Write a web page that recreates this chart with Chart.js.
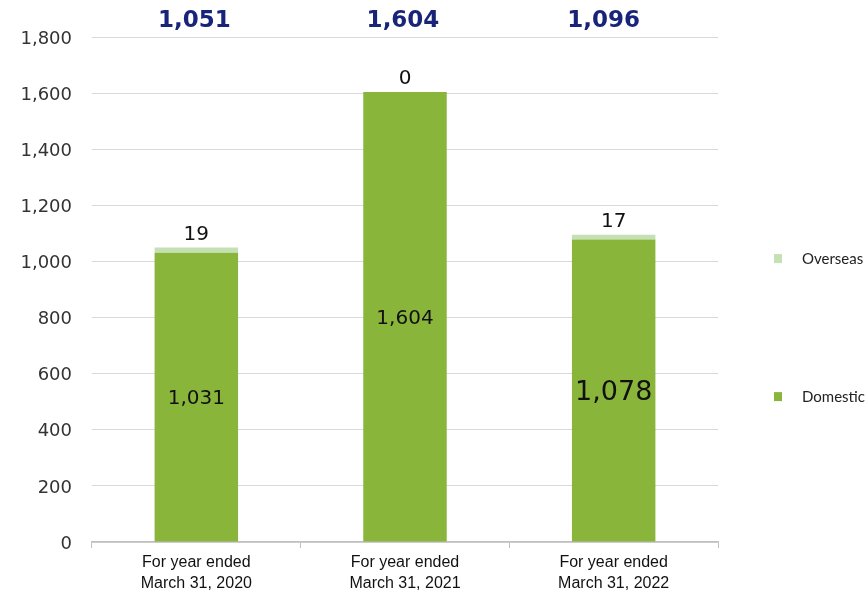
<!DOCTYPE html>
<html>
<head>
<meta charset="utf-8">
<script src="https://cdn.jsdelivr.net/npm/chart.js@4"></script>
<style>
  html, body { margin: 0; padding: 0; background: #fff; }
  #wrap { width: 865px; height: 599px; position: relative; }
</style>
</head>
<body>
<div id="wrap"><canvas id="chart"></canvas></div>

<script>
    const years = [
        ["For year ended", "March 31, 2020"],
        ["For year ended", "March 31, 2021"],
        ["For year ended", "March 31, 2022"]
    ];
    const domestic = [1031, 1604, 1078];
    const overseas = [19, 0, 17];
    const totals = [1051, 1604, 1096];
    const yTicks = [0, 200, 400, 600, 800, 1000, 1200, 1400, 1600, 1800];

    const GREEN = '#8AB53B';
    const PALE = '#C5E0B3';
    const NAVY = '#18247A';

    const fmt = function (v) { return v.toLocaleString('en-US'); };

    // value labels: domestic in the middle of its bar, overseas just above the stack
    const valueLabels = {
        id: 'valueLabels',
        afterDatasetsDraw(chart) {
            const ctx = chart.ctx;
            ctx.save();
            ctx.textAlign = 'center';
            ctx.textBaseline = 'middle';
            ctx.fillStyle = '#111';
            chart.getDatasetMeta(0).data.forEach(function (bar, i) {
                // the last year's figure is printed larger
                ctx.font = (i == 2 ? 27 : 20) + 'px "DejaVu Sans"';
                ctx.fillText(fmt(domestic[i]), bar.x, (bar.y + bar.base) / 2 + 2);
            });
            ctx.font = '20px "DejaVu Sans"';
            chart.getDatasetMeta(1).data.forEach(function (bar, i) {
                ctx.fillText(fmt(overseas[i]), bar.x, bar.y - 13);
            });
            // totals sit above the plot area
            ctx.font = 'bold 23px "DejaVu Sans"';
            ctx.fillStyle = NAVY;
            chart.getDatasetMeta(0).data.forEach(function (bar, i) {
                ctx.fillText(fmt(totals[i]), bar.x - (i == 2 ? 10 : 2), chart.chartArea.top - 16);
            });
            ctx.restore();
        }
    };

    // small square legend down the right side
    const sideLegend = {
        id: 'sideLegend',
        afterDraw(chart) {
            const ctx = chart.ctx;
            const y = chart.scales.y;
            const items = [
                { text: 'Overseas', color: PALE, at: 1012 },
                { text: 'Domestic', color: GREEN, at: 520 }
            ];
            ctx.save();
            ctx.font = '15px Lato';
            ctx.textBaseline = 'middle';
            ctx.textAlign = 'left';
            items.forEach(function (it) {
                let cy = y.getPixelForValue(it.at);
                ctx.fillStyle = it.color;
                ctx.fillRect(774, cy - 4, 8, 9);
                ctx.fillStyle = '#222';
                ctx.fillText(it.text, 802, cy + 1);
            });
            ctx.restore();
        }
    };

    new Chart(document.getElementById('chart'), {
        type: 'bar',
        data: {
            labels: years,
            datasets: [
                {
                    label: 'Domestic',
                    data: domestic,
                    backgroundColor: GREEN,
                    stack: 's0'
                },
                {
                    label: 'Overseas',
                    data: overseas,
                    backgroundColor: PALE,
                    stack: 's0'
                }
            ]
        },
        options: {
            responsive: true,
            maintainAspectRatio: false,
            animation: false,
            layout: { padding: { top: 37, right: 147, left: 0, bottom: 0 } },
            datasets: {
                bar: { categoryPercentage: 1, barPercentage: 0.4 }
            },
            scales: {
                x: {
                    stacked: true,
                    afterFit: function (scale) { scale.height = 57; },
                    border: { display: true, color: '#BFBFBF', width: 1.5 },
                    grid: {
                        offset: true,
                        drawOnChartArea: false,
                        drawTicks: true,
                        tickLength: 6,
                        color: '#BFBFBF'
                    },
                    ticks: {
                        color: '#111',
                        padding: 4,
                        font: { family: '"Liberation Sans", Arial', size: 16, lineHeight: 1.3 }
                    }
                },
                y: {
                    stacked: true,
                    min: 0,
                    max: 1800,
                    afterFit: function (scale) { scale.width = 92; },
                    afterBuildTicks: function (scale) {
                        scale.ticks = yTicks.map(function (v) { return { value: v }; });
                    },
                    border: { display: false },
                    grid: {
                        color: '#D9D9D9',
                        lineWidth: 1,
                        drawTicks: false
                    },
                    ticks: {
                        color: '#333',
                        padding: 20,
                        labelOffset: 2,
                        font: { family: '"DejaVu Sans"', size: 18 },
                        callback: function (v) { return fmt(v); }
                    }
                }
            },
            plugins: {
                legend: { display: false },
                tooltip: { enabled: false }
            }
        },
        plugins: [valueLabels, sideLegend]
    });
</script>
</body>
</html>
